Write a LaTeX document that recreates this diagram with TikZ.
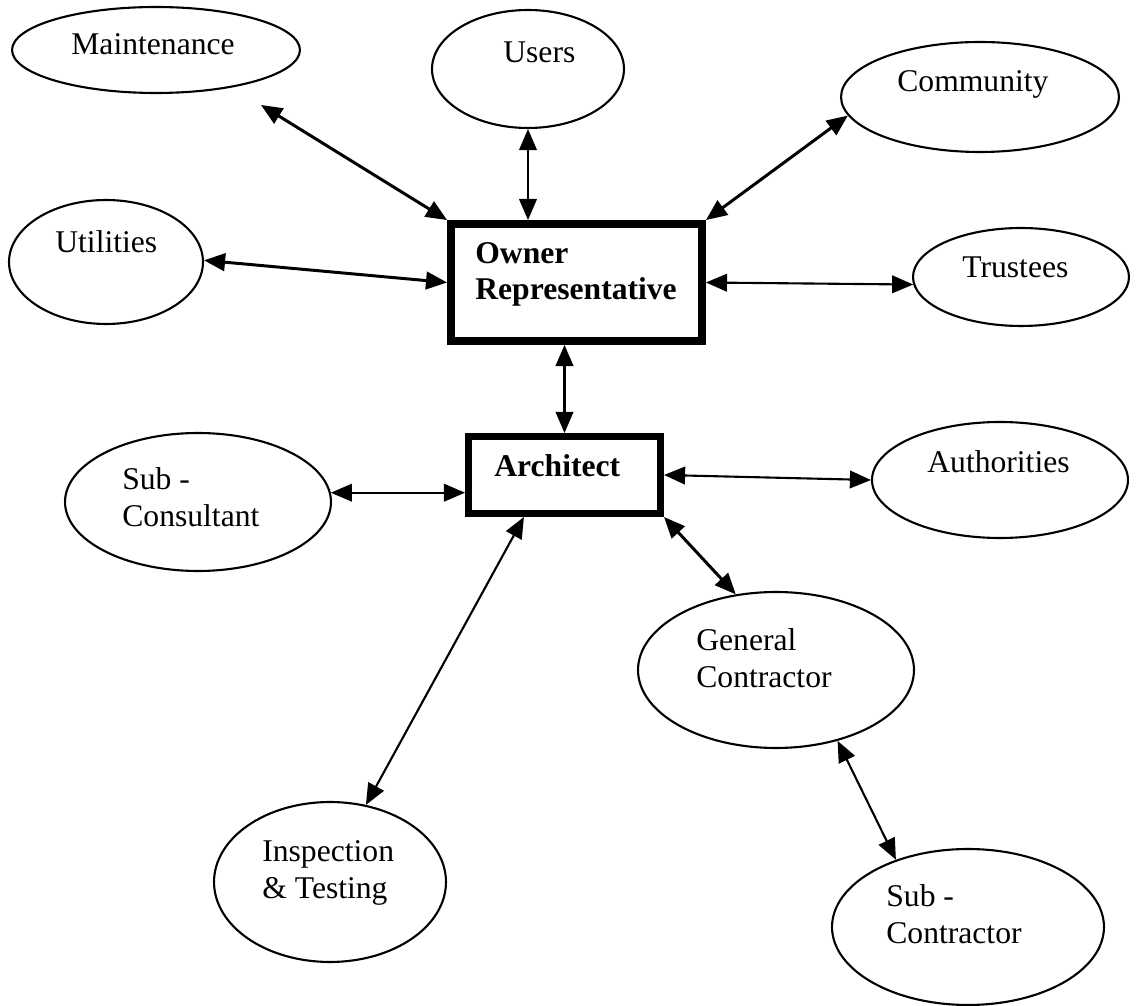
\documentclass[tikz,border=0pt]{standalone}
\usepackage{fontspec}
\setmainfont{Liberation Serif}
\usetikzlibrary{shapes.geometric,arrows.meta}

\tikzset{
  party/.style={draw, ellipse, line width=1.2pt, inner sep=0pt},
  hub/.style={draw, rectangle, inner sep=0pt},
  txt/.style={anchor=base west, inner sep=0pt, align=left,
              font=\fontsize{18}{21.5}\selectfont},
  btxt/.style={txt, font=\fontsize{18}{21}\selectfont\bfseries},
  link/.style={{Triangle[length=12pt,width=10pt]}-{Triangle[length=12pt,width=10pt]}, line width=1.2pt},
  thicklink/.style={link, line width=1.7pt}
}

\begin{document}
\begin{tikzpicture}[x=0.02cm, y=-0.02cm]
  \useasboundingbox (0,0) rectangle (1137,1006);

  % central boxes
  \node[hub, line width=4.5pt, minimum width=5.02cm, minimum height=2.34cm] (owner) at (576.5,282.5) {};
  \node[hub, line width=4pt, minimum width=3.84cm, minimum height=1.54cm] (arch) at (564.5,475) {};
  % multi-line labels are placed by the baseline of their last line
  \node[btxt] (ownerT) at (475,300) {Owner\\Representative};
  \node[btxt] (archT) at (494,477) {Architect};

  % parties
  \node[party, minimum width=5.76cm, minimum height=1.72cm] (maint) at (156,50) {};
  \node[party, minimum width=3.84cm, minimum height=2.36cm] (users) at (528,69) {};
  \node[party, minimum width=5.56cm, minimum height=2.2cm]  (comm)  at (980,97) {};
  \node[party, minimum width=3.88cm, minimum height=2.48cm] (util)  at (106,262) {};
  \node[party, minimum width=4.32cm, minimum height=1.96cm] (trust) at (1021,277) {};
  \node[party, minimum width=5.32cm, minimum height=2.76cm] (subc)  at (198,502) {};
  \node[party, minimum width=5.12cm, minimum height=2.32cm] (auth)  at (1000,480) {};
  \node[party, minimum width=5.52cm, minimum height=3.12cm] (gc)    at (776,670) {};
  \node[party, minimum width=4.64cm, minimum height=3.2cm]  (insp)  at (330,882) {};
  \node[party, minimum width=5.44cm, minimum height=3.12cm] (subk)  at (968,927) {};

  % party labels
  \node[txt] at (71,55)   {Maintenance};
  \node[txt] at (503,63)  {Users};
  \node[txt] at (897,92)  {Community};
  \node[txt] at (55,253)  {Utilities};
  \node[txt] at (962,278) {Trustees};
  \node[txt] at (122,527) {Sub -\\Consultant};
  \node[txt] at (927,473) {Authorities};
  \node[txt] at (696,688) {General\\Contractor};
  \node[txt] at (262,899) {Inspection\\\& Testing};
  \node[txt] at (886,944) {Sub -\\Contractor};

  % connectors
  \coordinate (mt) at (261,105);
  \draw[thicklink] (mt) -- (owner.north west);
  \draw[link] (users.south) -- (users.south |- owner.north);
  \draw[thicklink] (comm.188) -- (owner.north east);
  \draw[thicklink] (util.1) -- (owner.west);
  \draw[link] (owner.east) -- (trust.184);
  \draw[link] (arch.north |- owner.south) -- (arch.north);
  \draw[link] (subc.4) -- (subc.4 -| arch.west);
  \draw[link] (arch.east) -- (auth.west);
  \draw[thicklink] (arch.south east) -- (gc.118);
  \draw[link] (arch.226) -- (insp.65);
  \draw[link] (gc.-49) -- (subk.137);
\end{tikzpicture}
\end{document}
